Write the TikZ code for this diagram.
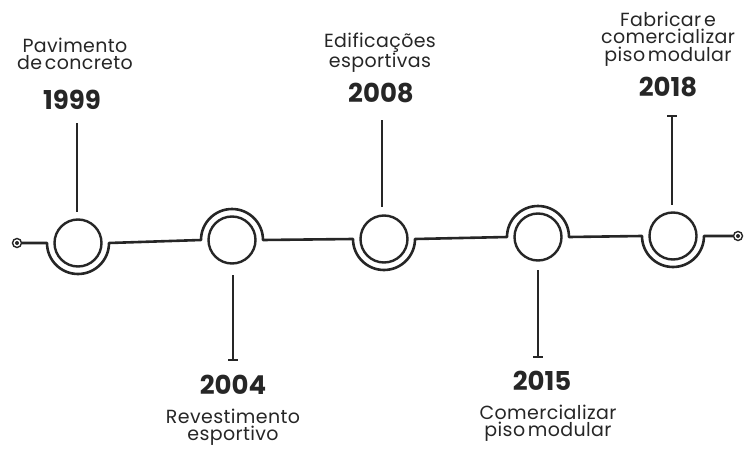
\documentclass[tikz,border=0pt]{standalone}
\usepackage{fontspec}
\setmainfont{Poppins}
\newfontfamily\labelfont{Poppins}[LetterSpace=2,WordSpace=0.5]
\begin{document}
\begin{tikzpicture}[x=1pt,y=1pt,
  wire/.style={line width=2.6pt, line cap=round, line join=round, black!85},
  ring/.style={circle, draw=black!85, line width=2.4pt, minimum size=47pt, inner sep=0pt},
  stem/.style={line width=2.2pt, black!85},
  enddot/.style={circle, draw=black!85, line width=1.4pt, minimum size=9pt, inner sep=0pt},
  label/.style={align=center, font=\labelfont\fontsize{19}{17.5}\selectfont, text=black!85, inner sep=0pt},
  year/.style={font=\bfseries\fontsize{26}{26}\selectfont, text=black!85, inner sep=0pt}]
\useasboundingbox (0,0) rectangle (747,451);
% end dots
\node[enddot] (dl) at (17,208) {};
\fill[black!85] (dl.center) circle (2pt);
\node[enddot] (dr) at (738,215) {};
\fill[black!85] (dr.center) circle (2pt);
% rings
\node[ring] (c1) at (78,208) {};
\node[ring] (c2) at (232,211) {};
\node[ring] (c3) at (384,212) {};
\node[ring] (c4) at (538,214) {};
\node[ring] (c5) at (673,215) {};
% main wavy line
\draw[wire] (dl.east) -- (47,208) arc[start angle=180, end angle=360, radius=31]
  -- (201,211) arc[start angle=180, end angle=0, radius=31]
  -- (353,212) arc[start angle=180, end angle=360, radius=31]
  -- (507,214) arc[start angle=180, end angle=0, radius=31]
  -- (642,215) arc[start angle=180, end angle=360, radius=31]
  -- (dr.west);
% stems
\coordinate (s1) at (77,328);
\coordinate (s2) at (233,91);
\coordinate (s3) at (382,331);
\coordinate (s4) at (538,94);
\coordinate (s5) at (672,335);
\draw[stem] (s1) -- (77,239);
\draw[stem] (s2) -- (233,176);
\draw[stem] ([xshift=-5pt]s2) -- ([xshift=5pt]s2);
\draw[stem] (s3) -- (382,244);
\draw[stem] (s4) -- (538,181);
\draw[stem] ([xshift=-5pt]s4) -- ([xshift=5pt]s4);
\draw[stem] (s5) -- (672,246);
\draw[stem] ([xshift=-5pt]s5) -- ([xshift=5pt]s5);
% labels
\node[label] (t1) at (75,397) {Pavimento\\de concreto};
\node[year] (y1) at (72,351) {1999};
\node[label] (t3) at (380,398) {Edificações\\esportivas};
\node[year] (y3) at (381,358) {2008};
\node[label] (t5) at (668,412) {Fabricar e\\comercializar\\piso modular};
\node[year] (y5) at (668,364) {2018};
\node[year] (y2) at (233,66) {2004};
\node[label] (t2) at (233,24) {Revestimento\\esportivo};
\node[year] (y4) at (542,70) {2015};
\node[label] (t4) at (548,28) {Comercializar\\piso modular};
\end{tikzpicture}
\end{document}
